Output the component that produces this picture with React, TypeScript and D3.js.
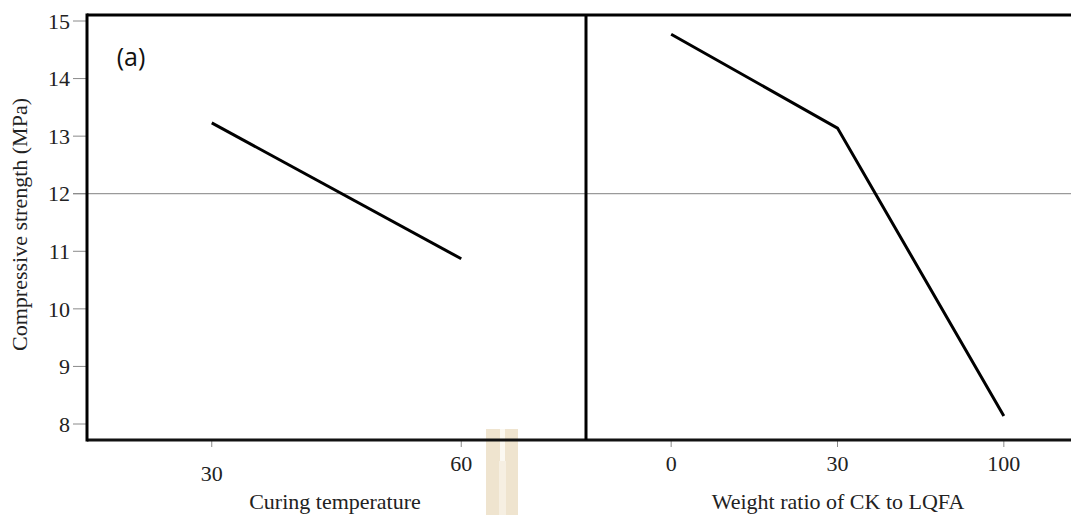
import * as d3 from 'd3';

// ── Data ────────────────────────────────────────────────
const tempLevels = ['30', '60'];
const tempMeans = [13.23, 10.87];

const ratioLevels = ['0', '30', '100'];
const ratioMeans = [14.77, 13.14, 8.14];

const yTicks = [8, 9, 10, 11, 12, 13, 14, 15];
const gridValue = 12;

const W = 1071;
const H = 515;
const top = 15;
const bottom = 440;
const left = 87;
const divider = 586;

export default function App() {
  const y = d3.scaleLinear().domain([8, 15]).range([424, 21]);
  const xTemp = d3.scalePoint<string>().domain(tempLevels).range([left, divider]).padding(0.5);
  const xRatio = d3.scalePoint<string>().domain(ratioLevels).range([divider + 2, 1087]).padding(0.5);

  const line = d3.line<[number, number]>().x(d => d[0]).y(d => d[1]);
  const tempPts: [number, number][] = tempLevels.map((l, i) => [xTemp(l)!, y(tempMeans[i])]);
  const ratioPts: [number, number][] = ratioLevels.map((l, i) => [xRatio(l)!, y(ratioMeans[i])]);

  const serif = '"Liberation Serif", "DejaVu Serif", serif';
  const fs = 22;

  return (
    <svg width={W} height={H} style={{ position: 'absolute', left: 0, top: 0, background: '#fff' }}>
      {/* watermark */}
      <rect x={486} y={429} width={32} height={86} fill="#efe4cf" />
      <rect x={500} y={429} width={5} height={32} fill="#fbf8f1" />
      <rect x={499} y={461} width={7} height={54} fill="#f6efe2" />

      {/* grid line at 12 */}
      <line x1={73} x2={W} y1={y(gridValue)} y2={y(gridValue)} stroke="#9a9a9a" strokeWidth={1.2} />

      {/* y ticks */}
      {yTicks.map(t => (
        <g key={t}>
          <line x1={73} x2={left} y1={y(t)} y2={y(t)} stroke="#8a8a8a" strokeWidth={1} />
          <text x={70} y={y(t)} dy="0.35em" textAnchor="end" fontFamily={serif} fontSize={fs} fill="#222">
            {t}
          </text>
        </g>
      ))}

      {/* x ticks */}
      {tempLevels.map((l, i) => (
        <g key={'t' + l}>
          <line x1={xTemp(l)} x2={xTemp(l)} y1={bottom} y2={447} stroke="#8a8a8a" strokeWidth={1} />
          <text x={xTemp(l)} y={i === 0 ? 481 : 471} textAnchor="middle" fontFamily={serif} fontSize={fs} fill="#222">
            {l}
          </text>
        </g>
      ))}
      {ratioLevels.map(l => (
        <g key={'r' + l}>
          <line x1={xRatio(l)} x2={xRatio(l)} y1={bottom} y2={447} stroke="#8a8a8a" strokeWidth={1} />
          <text x={xRatio(l)} y={471} textAnchor="middle" fontFamily={serif} fontSize={fs} fill="#222">
            {l}
          </text>
        </g>
      ))}

      {/* frame */}
      <line x1={left} x2={W} y1={top} y2={top} stroke="#000" strokeWidth={3} />
      <line x1={left} x2={W} y1={bottom} y2={bottom} stroke="#111" strokeWidth={3} />
      <line x1={left} x2={left} y1={top - 1.5} y2={bottom + 1.5} stroke="#000" strokeWidth={3} />
      <line x1={divider} x2={divider} y1={top} y2={bottom} stroke="#000" strokeWidth={3} />

      {/* main effect lines */}
      <path d={line(tempPts)!} fill="none" stroke="#000" strokeWidth={3} />
      <path d={line(ratioPts)!} fill="none" stroke="#000" strokeWidth={3} strokeLinejoin="miter" />

      {/* labels */}
      <text x={131} y={57} dy="0.35em" textAnchor="middle" fontFamily='"Open Sans", "Liberation Sans", sans-serif' fontSize={25} fill="#111">
        (a)
      </text>
      <text
        transform={`translate(27, ${y(11.5) + 2}) rotate(-90)`}
        textAnchor="middle"
        fontFamily={serif}
        fontSize={fs}
        fill="#222"
      >
        Compressive strength (MPa)
      </text>
      <text x={335} y={509} textAnchor="middle" fontFamily={serif} fontSize={fs} fill="#222">
        Curing temperature
      </text>
      <text x={838} y={509} textAnchor="middle" fontFamily={serif} fontSize={fs} fill="#222">
        Weight ratio of CK to LQFA
      </text>
    </svg>
  );
}
